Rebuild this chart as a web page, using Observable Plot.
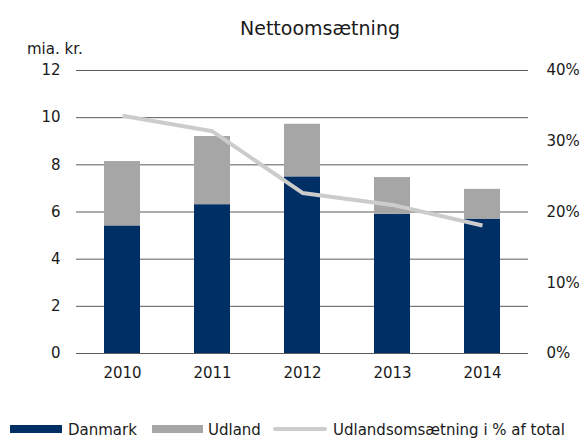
<!DOCTYPE html>
<html>
<head>
<meta charset="utf-8">
<script src="https://cdn.jsdelivr.net/npm/d3@7"></script>
<script src="https://cdn.jsdelivr.net/npm/@observablehq/plot@0.6"></script>
<style>
  html, body { margin: 0; padding: 0; background: #fff; }
  body { font-family: "DejaVu Sans", Verdana, sans-serif; color: #1a1a1a; }
  #wrap { position: relative; width: 586px; height: 442px; overflow: hidden; }
  #title { box-sizing: border-box; height: 40px; padding-top: 19px; padding-left: 54px; line-height: 19px; font-size: 19px; text-align: center; }
  #unit { position: absolute; left: 27px; top: 42px; font-size: 15px; line-height: 15px; }
  #chart { height: 360px; }
  #chart svg { display: block; }
  #legend { position: relative; height: 42px; font-size: 15px; line-height: 15px; }
  #legend .sw { position: absolute; }
  #legend .lb { position: absolute; top: 23px; white-space: nowrap; }
</style>
</head>
<body>
<div id="wrap">
  <div id="title">Nettoomsætning</div>
  <div id="unit">mia. kr.</div>
  <div id="chart"></div>
  <div id="legend"></div>
</div>
<script>
const years = ["2010", "2011", "2012", "2013", "2014"];
const danmark = [5.41, 6.31, 7.49, 5.90, 5.70];
const udland = [2.73, 2.89, 2.23, 1.56, 1.26];
const udlandPct = [33.6, 31.4, 22.7, 21.0, 18.1];
const leftTicks = [0, 2, 4, 6, 8, 10, 12];
const rightTicks = [0, 10, 20, 30, 40];
const seriesNames = ["Danmark", "Udland", "Udlandsomsætning i % af total"];
const colors = ["#002f65", "#a6a6a6", "#cccccc"];

const yMax = 12, pctMax = 40;
const toLeft = p => p * yMax / pctMax;

const bars = [];
years.forEach((yr, i) => {
  bars.push({year: yr, series: seriesNames[0], value: danmark[i]});
  bars.push({year: yr, series: seriesNames[1], value: udland[i]});
});
const line = years.map((yr, i) => ({year: yr, pct: udlandPct[i]}));

const plot = Plot.plot({
  width: 586,
  height: 360,
  marginLeft: 76,
  marginRight: 58,
  marginTop: 30,
  marginBottom: 47,
  style: {fontFamily: "DejaVu Sans, Verdana, sans-serif", fontSize: "15px", color: "#1a1a1a", background: "#fff"},
  x: {domain: years, paddingInner: 0.6, paddingOuter: 0.3},
  y: {domain: [0, yMax]},
  color: {domain: seriesNames.slice(0, 2), range: colors.slice(0, 2)},
  marks: [
    Plot.ruleY(leftTicks, {stroke: "#5a5a5a", strokeWidth: 1}),
    Plot.barY(bars, Plot.stackY({x: "year", y: "value", fill: "series", order: seriesNames.slice(0, 2)})),
    Plot.ruleY([0], {stroke: "#5a5a5a", strokeWidth: 1}),
    Plot.line(line, {x: "year", y: d => toLeft(d.pct), stroke: colors[2], strokeWidth: 4, strokeLinejoin: "round", strokeLinecap: "butt"}),
    Plot.axisY({anchor: "left", ticks: leftTicks, tickSize: 0, tickPadding: 16, label: null, fontSize: 15}),
    Plot.axisY({anchor: "right", ticks: rightTicks.map(toLeft), tickFormat: d => Math.round(d * pctMax / yMax) + "%", tickSize: 0, tickPadding: 18, label: null, fontSize: 15}),
    Plot.axisX({tickSize: 0, tickPadding: 14, label: null, fontSize: 15})
  ]
});
document.getElementById("chart").appendChild(plot);

// legend
const legend = document.getElementById("legend");
const items = [
  {sw: {left: 10, top: 25, width: 52, height: 8}, lb: 68},
  {sw: {left: 152, top: 25, width: 51, height: 8}, lb: 208},
  {sw: {left: 273, top: 27, width: 54, height: 4}, lb: 333}
];
items.forEach((it, i) => {
  const s = document.createElement("div");
  s.className = "sw";
  Object.assign(s.style, {left: it.sw.left + "px", top: it.sw.top + "px", width: it.sw.width + "px", height: it.sw.height + "px", background: colors[i]});
  if (i === 2) s.style.borderRadius = "2px";
  legend.appendChild(s);
  const t = document.createElement("div");
  t.className = "lb";
  t.style.left = it.lb + "px";
  t.textContent = seriesNames[i];
  legend.appendChild(t);
});
</script>
</body>
</html>
